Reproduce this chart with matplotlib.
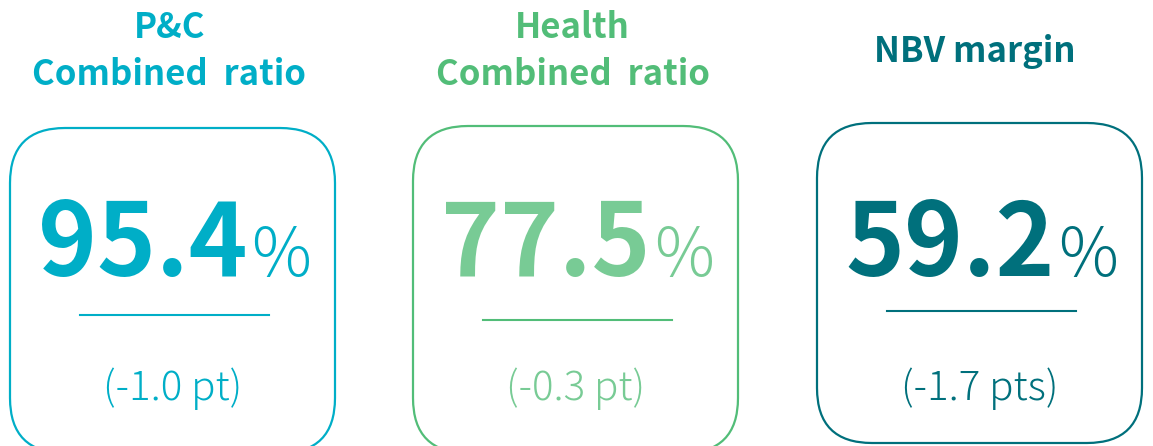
import matplotlib
matplotlib.use("Agg")
import matplotlib.pyplot as plt
from matplotlib.patches import FancyBboxPatch

# KPI cards
titles = ["P&C\nCombined  ratio", "Health\nCombined  ratio", "NBV margin"]
values = ["95.4", "77.5", "59.2"]
changes = ["(-1.0 pt)", "(-0.3 pt)", "(-1.7 pts)"]

title_colors = ["#00AEC7", "#52BD78", "#00707C"]
value_colors = ["#00AEC7", "#78CB95", "#00707C"]

# card geometry in pixels (measured from the top)
box_left = [10, 413, 817]
box_top = [128, 126, 123]
box_bottom = [453, 453, 443]
box_w = 325
rule_y = [315, 320, 311]

H = 446
def Y(y):
    # pixel-from-top -> data y
    return H - y

plt.rcParams['font.family'] = ['Noto Sans CJK JP', 'DejaVu Sans']

fig = plt.figure(figsize=(11.53, 4.46), dpi=100)
ax = fig.add_axes([0, 0, 1, 1])
ax.set_xlim(0, 1153)
ax.set_ylim(0, H)
ax.axis('off')

for i in range(3):
    cx = box_left[i] + box_w / 2
    # rounded card outline
    ax.add_patch(FancyBboxPatch((box_left[i], Y(box_bottom[i])), box_w,
                                box_bottom[i] - box_top[i],
                                boxstyle="round,pad=0,rounding_size=55",
                                fill=False, edgecolor=title_colors[i], lw=1.6))
    # title above the card
    if "\n" in titles[i]:
        l1, l2 = titles[i].split("\n")
        ax.text(cx - 3, Y(38), l1, ha='center', va='baseline', fontsize=25,
                fontweight='bold', color=title_colors[i])
        ax.text(cx - 3, Y(85), l2, ha='center', va='baseline', fontsize=25,
                fontweight='bold', color=title_colors[i])
    else:
        ax.text(cx - 5, Y(62), titles[i], ha='center', va='baseline', fontsize=25,
                fontweight='bold', color=title_colors[i])
    # big value + percent sign
    ax.text(cx + 75, Y(276), values[i], ha='right', va='baseline', fontsize=72,
            fontweight='bold', color=value_colors[i])
    ax.text(cx + 79, Y(276), "%", ha='left', va='baseline', fontsize=48,
            fontweight='light', color=value_colors[i])
    # rule
    ax.plot([cx - 93, cx + 96], [Y(rule_y[i]), Y(rule_y[i])],
            color=title_colors[i], lw=1.5)
    # change
    ax.text(cx, Y(400), changes[i], ha='center', va='baseline', fontsize=29,
            fontweight='light', color=value_colors[i])

fig.savefig("out.png", dpi=100)
